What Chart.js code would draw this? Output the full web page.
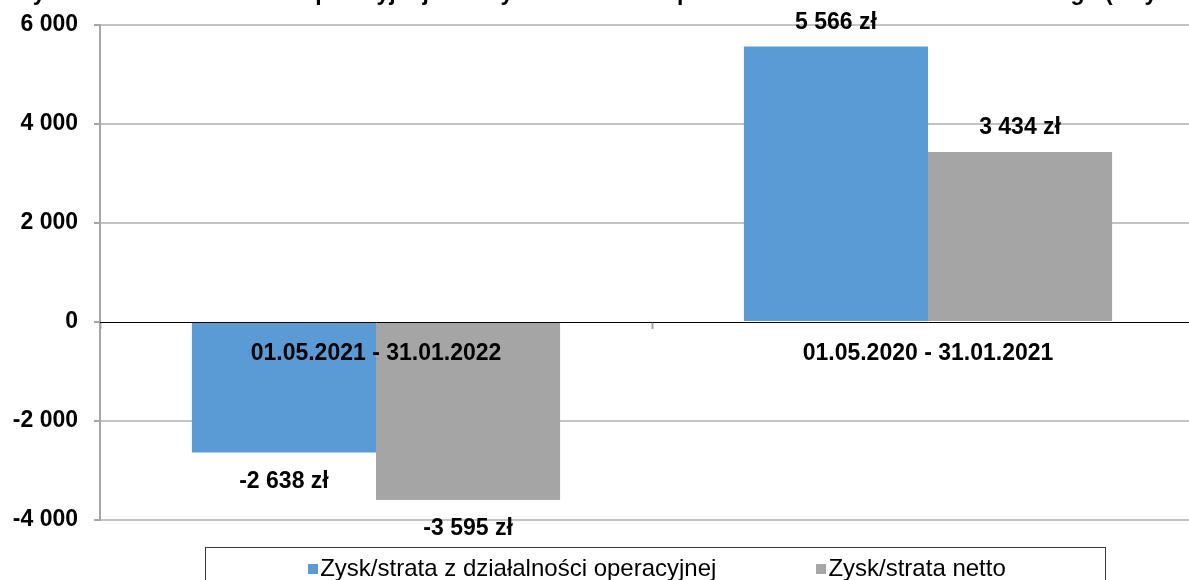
<!DOCTYPE html>
<html lang="pl">
<head>
<meta charset="utf-8">
<script src="https://cdn.jsdelivr.net/npm/chart.js@4.4.1/dist/chart.umd.min.js"></script>
<style>
  html, body { margin: 0; padding: 0; background: #fff; overflow: hidden; }
  #wrap { position: relative; width: 1189px; height: 580px; overflow: hidden; }
  #chart { position: absolute; left: 0; top: 0; }
  #legend {
    position: absolute; left: 205px; top: 547px; width: 901px; height: 50px;
    border: 1px solid #3a3a3a; box-sizing: border-box;
    display: flex; justify-content: center; align-items: flex-start; gap: 100px;
    font-family: "Liberation Sans", Arial, sans-serif; font-size: 24px; color: #000;
    padding-top: 6px; padding-left: 3px;
  }
  #legend .item { display: flex; align-items: center; }
  #legend .box { width: 10px; height: 10px; margin-right: 2px; margin-top: 2px; }
</style>
</head>
<body>
<div id="wrap">
  <canvas id="chart" width="1215" height="580"></canvas>
  <div id="legend"></div>
</div>
<script>
// Zysk/strata – dane z wykresu
const periods = ['01.05.2021 - 31.01.2022', '01.05.2020 - 31.01.2021'];
const operatingProfit = [-2638, 5566];
const netProfit = [-3595, 3434];
const seriesNames = ['Zysk/strata z działalności operacyjnej', 'Zysk/strata netto'];
const seriesColors = ['#5b9bd5', '#a5a5a5'];
const yTicks = [-4000, -2000, 0, 2000, 4000, 6000];
const chartTitle = 'Zysk/strata z działalności operacyjnej oraz zysk/strata netto po trzech kwartałach roku obrotowego (w tys. zł)';

const FONT = '"Liberation Sans", Arial, sans-serif';

function fmt(v) {
    const s = Math.abs(v).toString().replace(/\B(?=(\d{3})+(?!\d))/g, ' ');
    return (v < 0 ? '-' : '') + s;
}

// title – only its lower edge is visible in the picture
const clippedTitle = {
    id: 'clippedTitle',
    afterDraw(chart) {
        const ctx = chart.ctx;
        ctx.save();
        ctx.font = 'bold 23px ' + FONT;
        ctx.fillStyle = '#000';
        ctx.textBaseline = 'alphabetic';
        ctx.textAlign = 'left';
        const pre = chartTitle.slice(0, chartTitle.indexOf('('));
        ctx.fillText(chartTitle, 1105 - ctx.measureText(pre).width, 0);
        ctx.restore();
    }
};

// value labels above / below bars
const valueLabels = {
    id: 'valueLabels',
    afterDatasetsDraw(chart) {
        const ctx = chart.ctx;
        ctx.save();
        ctx.font = 'bold 23px ' + FONT;
        ctx.fillStyle = '#000';
        ctx.textAlign = 'center';
        ctx.textBaseline = 'middle';
        chart.data.datasets.forEach((ds, i) => {
            chart.getDatasetMeta(i).data.forEach((bar, j) => {
                const v = ds.data[j];
                const y = v >= 0 ? bar.y - 24 : bar.y + 29;
                ctx.fillText(fmt(v) + ' zł', bar.x, y);
            });
        });
        ctx.restore();
    }
};

new Chart(document.getElementById('chart'), {
    type: 'bar',
    data: {
        labels: periods,
        datasets: [
            { label: seriesNames[0], data: operatingProfit, backgroundColor: seriesColors[0] },
            { label: seriesNames[1], data: netProfit, backgroundColor: seriesColors[1] }
        ]
    },
    options: {
        responsive: false,
        animation: false,
        datasets: { bar: { categoryPercentage: 0.667, barPercentage: 1.0 } },
        layout: { padding: { top: 25, bottom: 60, left: 0, right: 11 } },
        plugins: { legend: { display: false }, tooltip: { enabled: false } },
        scales: {
            x: {
                position: { y: 0 },
                afterFit(scale) {
                    scale.height = 0;
                    scale.paddingTop = scale.paddingBottom = scale.paddingLeft = scale.paddingRight = 0;
                },
                grid: { display: true, drawOnChartArea: false, drawTicks: true, tickLength: 6, offset: true, tickColor: '#a6a6a6', tickWidth: 2, z: 1 },
                border: { display: true, color: '#000', width: 1, z: 1 },
                ticks: { color: '#000', padding: 12, autoSkip: false, z: 1, font: { family: FONT, size: 23, weight: 'bold' }, maxRotation: 0 }
            },
            y: {
                min: -4000,
                max: 6000,
                afterFit(scale) {
                    scale.width = 100;
                    scale.paddingTop = scale.paddingBottom = 0;
                },
                afterBuildTicks(scale) { scale.ticks = yTicks.map(v => ({ value: v })); },
                grid: {
                    color: ctx => ctx.tick && ctx.tick.value === 0 ? 'rgba(0,0,0,0)' : '#c4c4c4',
                    lineWidth: 2,
                    tickLength: 6,
                    tickColor: '#a6a6a6'
                },
                border: { display: true, color: '#a6a6a6', width: 2 },
                ticks: { color: '#000', padding: 16, font: { family: FONT, size: 23, weight: 'bold' }, callback: v => fmt(v) }
            }
        }
    },
    plugins: [clippedTitle, valueLabels]
});

// legend in a framed box below the chart
const legend = document.getElementById('legend');
seriesNames.forEach((name, i) => {
    const item = document.createElement('div');
    item.className = 'item';
    const box = document.createElement('span');
    box.className = 'box';
    box.style.background = seriesColors[i];
    const txt = document.createElement('span');
    txt.textContent = name;
    item.appendChild(box);
    item.appendChild(txt);
    legend.appendChild(item);
});
</script>
</body>
</html>
